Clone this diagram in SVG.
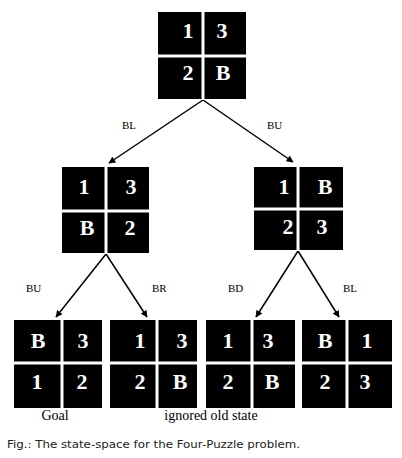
<svg xmlns="http://www.w3.org/2000/svg" width="402" height="458" viewBox="0 0 402 458">
<style>
.box{fill:#000}
.sep{stroke:#fff;stroke-width:3}
.d{font-family:"Liberation Serif","Times New Roman",serif;font-weight:bold;font-size:22px;fill:#fff;text-anchor:middle}
.lbl{font-family:"Liberation Serif","Times New Roman",serif;font-size:11px;fill:#000}
.cap{font-family:"Liberation Serif","Times New Roman",serif;font-size:14px;fill:#000}
.edge{stroke:#000;stroke-width:1.5;fill:none;marker-end:url(#ah)}
</style>
<defs>
<marker id="ah" viewBox="0 0 10 10" refX="9" refY="5" markerWidth="7" markerHeight="7" markerUnits="userSpaceOnUse" orient="auto"><path d="M0,0 L10,5 L0,10 z" fill="#000"/></marker>
</defs>
<rect width="402" height="458" fill="#fff"/>
<g id="connectors">
<line class="edge" x1="203" y1="100" x2="109" y2="163"/>
<line class="edge" x1="203" y1="100" x2="293" y2="162"/>
<line class="edge" x1="106" y1="254" x2="56" y2="317"/>
<line class="edge" x1="106" y1="254" x2="147" y2="317"/>
<line class="edge" x1="298" y1="251" x2="256" y2="317"/>
<line class="edge" x1="298" y1="251" x2="339" y2="317"/>
<text class="lbl" x="122" y="129">BL</text>
<text class="lbl" x="267" y="129">BU</text>
<text class="lbl" x="26" y="292">BU</text>
<text class="lbl" x="152" y="292">BR</text>
<text class="lbl" x="228" y="292">BD</text>
<text class="lbl" x="343" y="292">BL</text>
</g>
<g id="root">
<rect class="box" x="158" y="12" width="88" height="87"/>
<line class="sep" x1="203" y1="12" x2="203" y2="100"/>
<line class="sep" x1="158" y1="56" x2="246" y2="56"/>
<text class="d" x="188" y="38">1</text><text class="d" x="222" y="38">3</text>
<text class="d" x="188" y="80">2</text><text class="d" x="223" y="80">B</text>
</g>
<g id="mid-left">
<rect class="box" x="62" y="167" width="87" height="86"/>
<line class="sep" x1="106" y1="167" x2="106" y2="254"/>
<line class="sep" x1="62" y1="211" x2="149" y2="211"/>
<text class="d" x="84" y="194">1</text><text class="d" x="131" y="194">3</text>
<text class="d" x="87" y="235">B</text><text class="d" x="130" y="235">2</text>
</g>
<g id="mid-right">
<rect class="box" x="254" y="167" width="89" height="83"/>
<line class="sep" x1="298" y1="167" x2="298" y2="251"/>
<line class="sep" x1="254" y1="209" x2="343" y2="209"/>
<text class="d" x="284" y="194">1</text><text class="d" x="325" y="194">B</text>
<text class="d" x="288" y="234">2</text><text class="d" x="322" y="234">3</text>
</g>
<g id="goal">
<rect class="box" x="14" y="320" width="88" height="88"/>
<line class="sep" x1="62" y1="320" x2="62" y2="408"/>
<line class="sep" x1="14" y1="363" x2="102" y2="363"/>
<text class="d" x="38" y="348">B</text><text class="d" x="83" y="348">3</text>
<text class="d" x="37" y="389">1</text><text class="d" x="82" y="389">2</text>
<text class="cap" x="55" y="420" text-anchor="middle">Goal</text>
</g>
<g id="ignored">
<rect class="box" x="110" y="320" width="87" height="88"/>
<line class="sep" x1="157" y1="320" x2="157" y2="408"/>
<line class="sep" x1="110" y1="363" x2="197" y2="363"/>
<text class="d" x="140" y="348">1</text><text class="d" x="182" y="348">3</text>
<text class="d" x="140" y="389">2</text><text class="d" x="180" y="389">B</text>
</g>
<text class="cap" x="211" y="420" text-anchor="middle">ignored old state</text>
<g id="bd-state">
<rect class="box" x="206" y="320" width="89" height="88"/>
<line class="sep" x1="252" y1="320" x2="252" y2="408"/>
<line class="sep" x1="206" y1="363" x2="295" y2="363"/>
<text class="d" x="228" y="348">1</text><text class="d" x="268" y="348">3</text>
<text class="d" x="228" y="389">2</text><text class="d" x="272" y="389">B</text>
</g>
<g id="bl-state">
<rect class="box" x="302" y="320" width="90" height="88"/>
<line class="sep" x1="347" y1="320" x2="347" y2="408"/>
<line class="sep" x1="302" y1="363" x2="392" y2="363"/>
<text class="d" x="325" y="348">B</text><text class="d" x="367" y="348">1</text>
<text class="d" x="325" y="389">2</text><text class="d" x="365" y="389">3</text>
</g>
<text x="7" y="448" font-family="'DejaVu Sans',Verdana,sans-serif" font-size="10.5" fill="#222" textLength="293" lengthAdjust="spacingAndGlyphs">Fig.: The state-space for the Four-Puzzle problem.</text>
</svg>
